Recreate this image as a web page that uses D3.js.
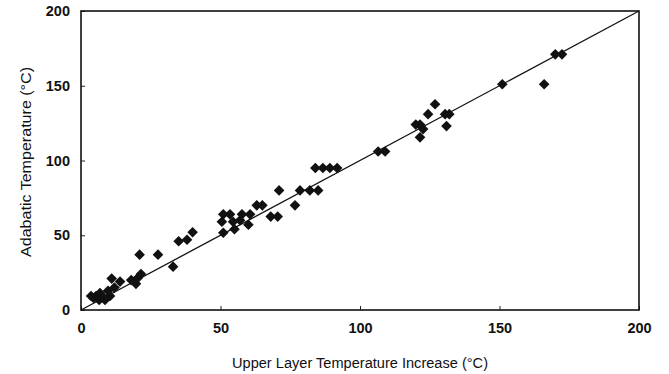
<!DOCTYPE html>
<html>
<head>
<meta charset="utf-8">
<script src="https://cdn.jsdelivr.net/npm/d3@7"></script>
<style>
  html, body { margin: 0; padding: 0; background: #fff; }
  svg text { font-family: "Liberation Sans", Arial, Helvetica, sans-serif; fill: #111; }
</style>
</head>
<body>
<svg id="chart" width="669" height="374"></svg>
<script>
// Measured points: upper layer temperature increase vs adiabatic temperature (°C)
const upperLayerRise = [
  3.6, 5.4, 6.8, 7.9, 6.5, 8.6, 10.4, 9.7, 4.5,
  11, 14, 18, 19.7, 20.4, 21.5, 12,
  21, 27.6, 33,
  35, 38, 40,
  51, 53.4, 57.7, 60.6, 50.5, 54.5, 51, 55, 60, 57,
  63, 65, 68, 70.5, 71, 76.7,
  78.5, 82, 85,
  84, 86.7, 89.2, 91.8,
  106.5, 109,
  120, 121.5, 122.6, 121.5, 124.4, 126.9,
  130.5, 132, 131,
  151, 166, 170, 172.4
];
const adiabaticTemp = [
  9.4, 9.4, 11.4, 8.7, 6.7, 6.7, 9.4, 12.8, 8,
  21, 19, 20, 17.5, 21.5, 24, 15,
  37, 37, 29,
  46, 47, 52,
  64, 64, 64, 64, 59, 59, 51.7, 54, 57, 60,
  70, 70, 62.5, 62.5, 80, 70,
  80, 80, 80,
  95, 95, 95, 95,
  106, 106,
  124, 124, 121, 115.5, 131, 137.6,
  131, 131, 123,
  151, 151, 171, 171
];
const xTicks = [0, 50, 100, 150, 200];
const yTicks = [0, 50, 100, 150, 200];
const xTitle = "Upper Layer Temperature Increase  (°C)";
const yTitle = "Adabatic Temperature (°C)";

const W = 669, H = 374;
const margin = { top: 11, right: 30, bottom: 64, left: 81 };
const iw = W - margin.left - margin.right;
const ih = H - margin.top - margin.bottom;

const svg = d3.select("#chart");
const g = svg.append("g").attr("transform", `translate(${margin.left},${margin.top})`);

const x = d3.scaleLinear().domain([0, 200]).range([0, iw]);
const y = d3.scaleLinear().domain([0, 200]).range([ih, 0]);

// Axes with short inward ticks
const xAxis = d3.axisBottom(x).tickValues(xTicks).tickSize(-4).tickPadding(13).tickFormat(d3.format("d"));
const yAxis = d3.axisLeft(y).tickValues(yTicks).tickSize(-4).tickPadding(11).tickFormat(d3.format("d"));

const gx = g.append("g").attr("transform", `translate(0,${ih})`).call(xAxis);
const gy = g.append("g").call(yAxis);
[gx, gy].forEach(a => {
  a.select(".domain").remove();
  a.selectAll(".tick line").attr("stroke", "#222").attr("stroke-width", 1);
  a.selectAll(".tick text").attr("font-size", 14.5).attr("fill", "#111").style("font-weight", "bold");
});
gx.selectAll(".tick text").attr("dy", "0.72em");

// 1:1 reference line
g.append("line")
  .attr("x1", x(0)).attr("y1", y(0))
  .attr("x2", x(200)).attr("y2", y(200))
  .attr("stroke", "#111").attr("stroke-width", 1.3);

// Data points as filled diamonds
const diamond = d3.symbol().type(d3.symbolDiamond2).size(72);
g.append("g").selectAll("path")
  .data(d3.range(upperLayerRise.length))
  .join("path")
  .attr("d", diamond)
  .attr("transform", i => `translate(${x(upperLayerRise[i])},${y(adiabaticTemp[i])})`)
  .attr("fill", "#111");

// Plot frame
g.append("rect")
  .attr("x", 0).attr("y", 0).attr("width", iw).attr("height", ih)
  .attr("fill", "none").attr("stroke", "#111").attr("stroke-width", 1.6);

// Axis titles
svg.append("text")
  .attr("x", 360).attr("y", 368)
  .attr("text-anchor", "middle").attr("font-size", 14)
  .attr("textLength", 256).attr("lengthAdjust", "spacingAndGlyphs")
  .text(xTitle);

svg.append("text")
  .attr("transform", `translate(31,162) rotate(-90)`)
  .attr("text-anchor", "middle").attr("font-size", 14.5)
  .attr("textLength", 190).attr("lengthAdjust", "spacingAndGlyphs")
  .text(yTitle);
</script>
</body>
</html>
